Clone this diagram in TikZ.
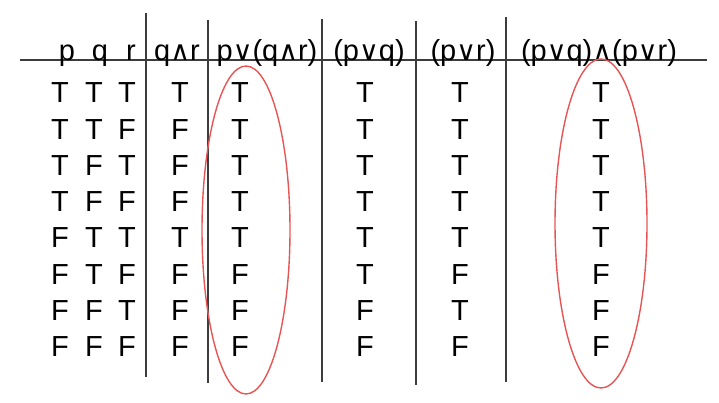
\documentclass[tikz,border=0pt]{standalone}
\usepackage{fontspec}
\setmainfont{Liberation Sans}
\newfontfamily\symfont{DejaVu Sans}
\newcommand{\myor}{{\symfont\fontsize{27}{27}\selectfont ∨}}
\newcommand{\myand}{{\symfont\fontsize{27}{27}\selectfont ∧}}
\definecolor{ovalred}{RGB}{232,84,84}
\definecolor{rulegray}{RGB}{60,60,60}
\begin{document}
\begin{tikzpicture}[x=1pt,y=-1pt,
  txt/.style={font=\fontsize{29}{29}\selectfont, inner sep=0pt, anchor=base},
  rule/.style={draw=rulegray, line width=1.5pt},
  oval/.style={draw=ovalred, line width=1.4pt}]
\useasboundingbox (0,0) rectangle (719,403);
% rules
\coordinate (hl) at (20,60); \coordinate (hr) at (707,60);
\draw[rule] (hl) -- (hr);
\coordinate (v1t) at (146,13); \coordinate (v1b) at (146,377);
\coordinate (v2t) at (208,20); \coordinate (v2b) at (208,383);
\coordinate (v3t) at (322,19); \coordinate (v3b) at (322,382);
\coordinate (v4t) at (416,21); \coordinate (v4b) at (416,385);
\coordinate (v5t) at (506,17); \coordinate (v5b) at (506,382);
\draw[rule] (v1t) -- (v1b);
\draw[rule] (v2t) -- (v2b);
\draw[rule] (v3t) -- (v3b);
\draw[rule] (v4t) -- (v4b);
\draw[rule] (v5t) -- (v5b);
% headers
\node[txt] (hp) at (67,61) {p};
\node[txt] (hq) at (100,61) {q};
\node[txt] (hr2) at (131,61) {r};
\node[txt] (hqr) at (177,61) {q\myand r};
\node[txt] (hpqr) at (267,61) {p\myor(q\myand r)};
\node[txt] (hpq) at (369,61) {(p\myor q)};
\node[txt] (hpr) at (463,61) {(p\myor r)};
\node[txt] (hall) at (599,61) {(p\myor q)\myand(p\myor r)};
% rows
\foreach \a/\b/\c/\d/\e/\f/\g/\h [count=\i] in {
  T/T/T/T/T/T/T/T,
  T/T/F/F/T/T/T/T,
  T/F/T/F/T/T/T/T,
  T/F/F/F/T/T/T/T,
  F/T/T/T/T/T/T/T,
  F/T/F/F/F/T/F/F,
  F/F/T/F/F/F/T/F,
  F/F/F/F/F/F/F/F}{
  \pgfmathsetmacro\yy{103+(\i-1)*36.2}
  \node[txt] (p\i) at (60,\yy) {\a};
  \node[txt] (q\i) at (94,\yy) {\b};
  \node[txt] (r\i) at (127,\yy) {\c};
  \node[txt] (qr\i) at (180,\yy) {\d};
  \node[txt] (pqr\i) at (240,\yy) {\e};
  \node[txt] (pq\i) at (365,\yy) {\f};
  \node[txt] (pr\i) at (460,\yy) {\g};
  \node[txt] (all\i) at (601,\yy) {\h};
}
% ovals
\coordinate (o1) at (246,230);
\coordinate (o2) at (601,223.5);
\draw[oval] (o1) ellipse [x radius=44pt, y radius=164pt];
\draw[oval] (o2) ellipse [x radius=46pt, y radius=164.5pt];
\end{tikzpicture}
\end{document}
